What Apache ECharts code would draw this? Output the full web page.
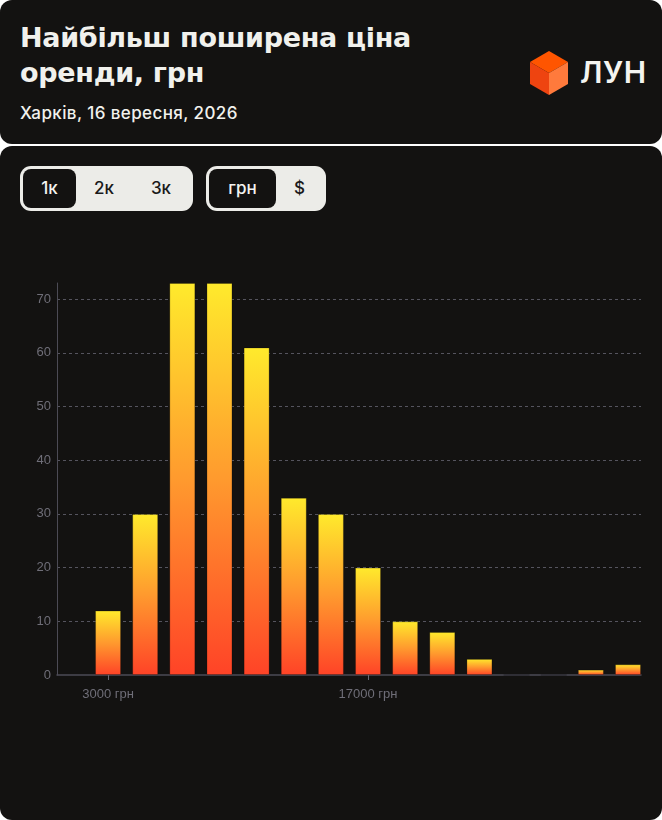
<!DOCTYPE html>
<html>
<head>
<meta charset="utf-8">
<script src="https://cdn.jsdelivr.net/npm/echarts@6/dist/echarts.min.js"></script>
<style>
  html, body { margin:0; padding:0; width:662px; height:820px; background:#ffffff; overflow:hidden; font-family: Inter, "Noto Sans", sans-serif; }
  .card { position:absolute; left:0; width:662px; background:#131211; border-radius:12px; }
  #c1 { top:0; height:144px; }
  #c2 { top:146px; height:674px; }
  .title { position:absolute; left:20px; top:20px; color:#f1f1ed; font-family:"DejaVu Sans", sans-serif; font-size:27px; font-weight:700; line-height:35px; letter-spacing:-0.3px; }
  .sub { position:absolute; left:20px; top:103px; color:#f1f1ed; font-size:17px; font-weight:500; letter-spacing:0.4px; }
  .logo { position:absolute; left:529px; top:51px; }
  .logotext { position:absolute; left:580px; top:54px; color:#f4f4f0; font-size:30px; font-weight:600; letter-spacing:0.5px; }
  .grp { position:absolute; top:166px; height:45px; box-sizing:border-box; padding:3px; background:#ecece8; border-radius:11px; display:flex; }
  .btn { height:39px; line-height:39px; text-align:center; font-size:17px; color:#1a1a1a; border-radius:8px; font-weight:500; }
  .btn.sel { background:#131211; color:#f4f4f0; }
  #chart { position:absolute; left:0; top:0; width:662px; height:820px; }
</style>
</head>
<body>
<div class="card" id="c1">
  <div class="title">Найбільш поширена ціна<br>оренди, грн</div>
  <div class="sub">Харків, 16 вересня, 2026</div>
  <svg class="logo" width="42" height="46" viewBox="0 0 42 46">
    <polygon points="20,0 39,11 20,22 1,11" fill="#ff5500"/>
    <polygon points="1,11 20,22 20,44 1,33" fill="#ee4410"/>
    <polygon points="20,22 39,11 39,33 20,44" fill="#ff7a3c"/>
  </svg>
  <div class="logotext">ЛУН</div>
</div>
<div class="card" id="c2"></div>
<div class="grp" style="left:20px;width:173px;">
  <div class="btn sel" style="width:53px;">1к</div>
  <div class="btn" style="width:56px;">2к</div>
  <div class="btn" style="width:58px;">3к</div>
</div>
<div class="grp" style="left:206px;width:120px;">
  <div class="btn sel" style="width:67px;">грн</div>
  <div class="btn" style="width:47px;">$</div>
</div>
<div id="chart"></div>
<script>
const prices = [3000, 5000, 7000, 9000, 11000, 13000, 15000, 17000, 19000, 21000, 23000, 25000, 27000, 29000, 31000];
const counts = [12, 30, 73, 73, 61, 33, 30, 20, 10, 8, 3, 0, 0, 1, 2];
const xLabelValues = [3000, 17000];
const yTicks = [0, 10, 20, 30, 40, 50, 60, 70];

const chart = echarts.init(document.getElementById('chart'), null, { renderer: 'canvas' });
chart.setOption({
  backgroundColor: 'transparent',
  animation: false,
  grid: { left: 57, right: 21, top: 283, bottom: 145, containLabel: false },
  xAxis: {
    type: 'value',
    min: 250,
    max: 31700,
    axisLine: { show: true, lineStyle: { color: '#4c4b55', width: 1.5 } },
    axisTick: { show: true, customValues: xLabelValues, length: 5, lineStyle: { color: '#6a6a74' } },
    axisLabel: {
      customValues: xLabelValues,
      color: '#6f6e78', fontSize: 13, margin: 13,
      fontFamily: 'Liberation Sans, Arial, sans-serif',
      formatter: v => v + ' грн'
    },
    splitLine: { show: false }
  },
  yAxis: {
    type: 'value',
    min: 0,
    max: 73,
    interval: 10,
    axisLine: { show: true, lineStyle: { color: '#4c4b55', width: 1 } },
    axisTick: { show: false },
    axisLabel: {
      customValues: yTicks,
      color: '#6f6e78', fontSize: 13, margin: 6,
      fontFamily: 'Liberation Sans, Arial, sans-serif'
    },
    splitLine: { show: true, showMinLine: false, showMaxLine: false, lineStyle: { color: '#55545e', type: [3, 3], width: 1 } }
  },
  series: [{
    type: 'bar',
    barWidth: 26,
    data: prices.map((p, i) => [p, counts[i]]),
    itemStyle: {
      borderColor: 'rgba(0,0,0,0.22)',
      borderWidth: 1,
      color: new echarts.graphic.LinearGradient(0, 0, 0, 1, [
        { offset: 0, color: '#ffea2c' },
        { offset: 0.5, color: '#ff9a2e' },
        { offset: 1, color: '#ff4327' }
      ])
    }
  }]
});
</script>
</body>
</html>
